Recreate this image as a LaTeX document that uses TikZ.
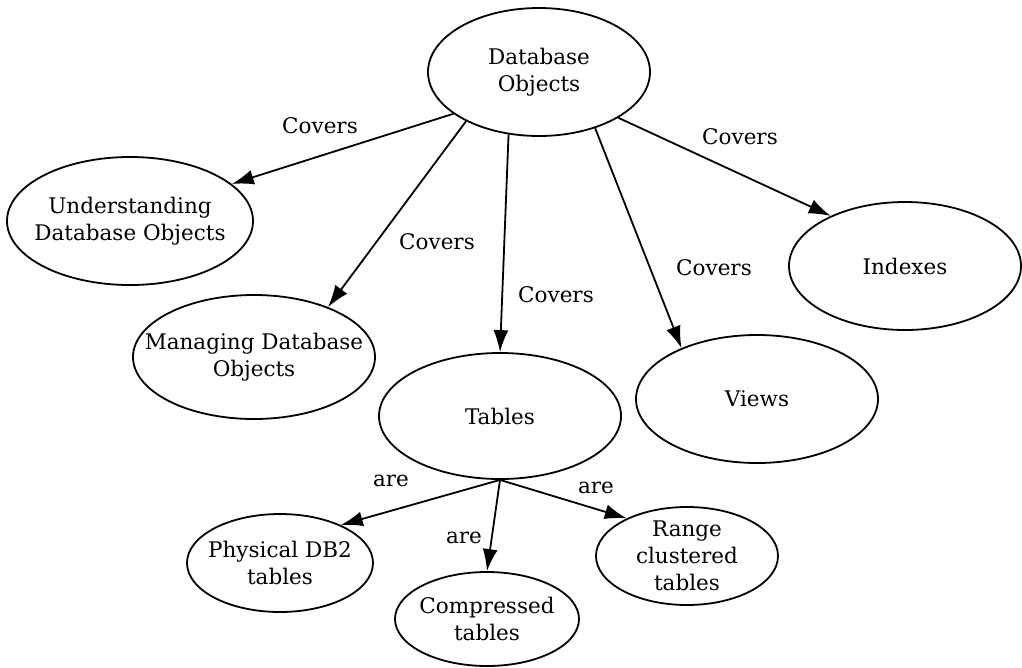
\documentclass[tikz,border=0pt]{standalone}
\usepackage{fontspec}
\setmainfont{DejaVu Serif}
\usetikzlibrary{shapes.geometric, arrows.meta, positioning}

\begin{document}
\begin{tikzpicture}[x=1pt, y=-1pt,
	obj/.style={draw, ellipse, line width=1.8pt, inner xsep=-30pt, inner ysep=-10pt, align=center, font=\fontsize{21.5}{27}\selectfont},
	lbl/.style={font=\fontsize{21.5}{26}\selectfont},
	arr/.style={-{Latex[length=22pt, width=15pt]}, line width=1.8pt}]
	\useasboundingbox (0,0) rectangle (1022,667);
	% database objects and what they cover
	\node[obj, minimum width=222pt, minimum height=128pt] (DO) at (539,72) {Database\\Objects};
	\node[obj, minimum width=246pt, minimum height=128pt] (U) at (130,221) {Understanding\\Database Objects};
	\node[obj, minimum width=242pt, minimum height=124pt] (M) at (254,357) {Managing Database\\Objects};
	\node[obj, minimum width=242pt, minimum height=126pt] (T) at (500,416) {Tables};
	\node[obj, minimum width=242pt, minimum height=128pt] (V) at (757,399) {Views};
	\node[obj, minimum width=232pt, minimum height=128pt] (I) at (905,266) {Indexes};
	% kinds of tables
	\node[obj, minimum width=186pt, minimum height=98pt] (P) at (280,563) {Physical DB2\\tables};
	\node[obj, minimum width=184pt, minimum height=94pt] (C) at (487,619) {Compressed\\tables};
	\node[obj, minimum width=182pt, minimum height=98pt] (R) at (687,556) {Range\\clustered\\tables};
	\foreach \a/\t/\b in {206/U/20, 214/M/34, 244/T/90, 315/V/146, 330/I/146}
		\draw[arr] (DO.\a) -- (\t.\b);
	\foreach \t/\b in {P/32, C/90, R/148}
		\draw[arr] (T.south) -- (\t.\b);
	\foreach \n/\x/\y/\s in {cu/320/126/Covers, cm/437/242/Covers, ct/556/295/Covers, cv/714/268/Covers, ci/740/137/Covers, ap/391/481/are, ac/464/538/are, ar/596/488/are}
		\node[lbl] (\n) at (\x,\y) {\s};
\end{tikzpicture}
\end{document}
